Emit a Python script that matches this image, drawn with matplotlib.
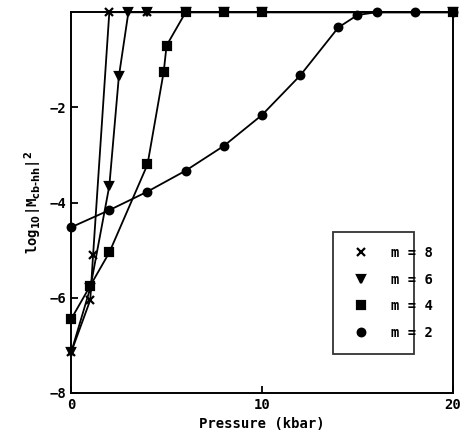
import matplotlib
matplotlib.use('Agg')
import matplotlib.pyplot as plt
from matplotlib.lines import Line2D

# pressure (kbar) and log10|M|^2
m8_x = [0, 1, 1.15, 2, 4, 6, 8, 10, 20]
m8_y = [-7.15, -6.05, -5.1, 0, 0, 0, 0, 0, 0]

m6_x = [0, 1, 2, 2.5, 3, 4, 6, 8, 10, 20]
m6_y = [-7.15, -5.8, -3.65, -1.35, 0, 0, 0, 0, 0, 0]

m4_x = [0, 1, 2, 4, 4.85, 5, 6, 8, 10, 20]
m4_y = [-6.45, -5.75, -5.05, -3.2, -1.25, -0.7, 0, 0, 0, 0]

m2_x = [0, 2, 4, 6, 8, 10, 12, 14, 15, 16, 18, 20]
m2_y = [-4.52, -4.16, -3.77, -3.33, -2.81, -2.16, -1.33, -0.32, -0.06, 0, 0, 0]

series = [('m = 8', m8_x, m8_y, 'x'),
          ('m = 6', m6_x, m6_y, 'v'),
          ('m = 4', m4_x, m4_y, 's'),
          ('m = 2', m2_x, m2_y, 'o')]

plt.rcParams['font.family'] = ['DejaVu Sans Mono', 'DejaVu Sans']
plt.rcParams['font.weight'] = 'bold'

fig = plt.figure(figsize=(4.65, 4.36), dpi=100)
ax = fig.add_axes([0.153, 0.099, 0.821, 0.873])

handles = []
for lab, xs, ys, mk in series:
    ms = 6 if mk == 'x' else 5.5
    ax.plot(xs, ys, color='black', lw=1.3, marker=mk, ms=ms, mew=1.6,
            clip_on=False, zorder=3)
    handles.append(Line2D([], [], color='black', ls='none', marker=mk,
                          ms=ms, mew=1.6, label=lab))

ax.set_xlim(0, 20)
ax.set_ylim(-8, 0)
ax.set_xticks([0, 10, 20])
ax.set_yticks([-8, -6, -4, -2])
ax.tick_params(direction='in', length=5, width=1.3, labelsize=10)
for s in ax.spines.values():
    s.set_linewidth(1.4)

ax.set_xlabel('Pressure (kbar)', fontsize=10, fontweight='bold')
ax.set_ylabel(r'log$_{10}$|M$_{\mathrm{cb\text{-}hh}}$|$^2$', fontsize=10,
              fontweight='bold')

leg = ax.legend(handles=handles, loc='lower left',
                bbox_to_anchor=(0.667, 0.085, 0.248, 0.282), mode='expand',
                frameon=True, fancybox=False, edgecolor='black',
                handletextpad=1.2, labelspacing=0.9, borderpad=1.0,
                prop={'size': 10, 'weight': 'bold'})
leg.get_frame().set_linewidth(1.3)

fig.savefig('out.png', dpi=100)
